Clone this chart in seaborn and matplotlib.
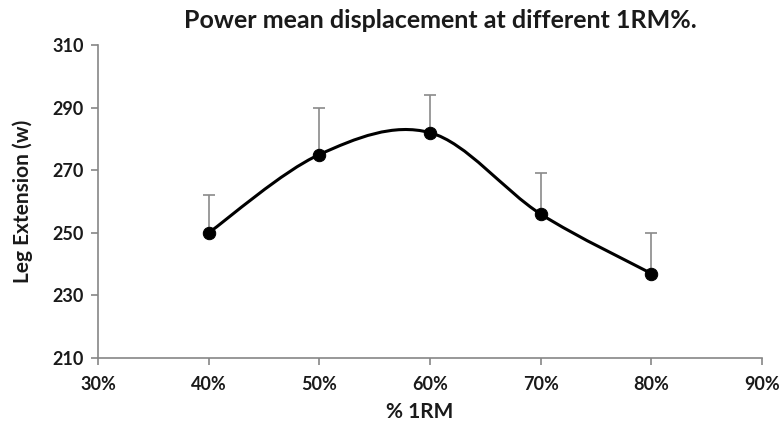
import numpy as np
import pandas as pd
import seaborn as sns
import matplotlib.pyplot as plt
from matplotlib.path import Path
from matplotlib.patches import PathPatch
from matplotlib.ticker import FuncFormatter

sns.set_theme(style="white")
plt.rcParams['font.family'] = ['Lato', 'DejaVu Sans']
plt.rcParams['font.weight'] = 'bold'

# datos
pct_1rm = [0.40, 0.50, 0.60, 0.70, 0.80]
power_mean = [250, 275, 282, 256, 237]
err_up = [12, 15, 12, 13, 13]

x_ticks = [0.30, 0.40, 0.50, 0.60, 0.70, 0.80, 0.90]
y_ticks = [210, 230, 250, 270, 290, 310]

df = pd.DataFrame({'pct': pct_1rm, 'power': power_mean, 'err': err_up})

fig = plt.figure(figsize=(7.8, 4.3), dpi=100)
ax = fig.add_axes([0.1256, 0.1674, 0.8513, 0.7279])

# linea suavizada tipo excel (bezier catmull-rom)
px = df['pct'].to_numpy()
py = df['power'].to_numpy()
verts = [(px[0], py[0])]
codes = [Path.MOVETO]
n = len(px)
for i in range(n - 1):
    p0 = max(i - 1, 0)
    p3 = min(i + 2, n - 1)
    c1 = (px[i] + (px[i + 1] - px[p0]) / 6, py[i] + (py[i + 1] - py[p0]) / 6)
    c2 = (px[i + 1] - (px[p3] - px[i]) / 6, py[i + 1] - (py[p3] - py[i]) / 6)
    verts += [c1, c2, (px[i + 1], py[i + 1])]
    codes += [Path.CURVE4] * 3
ax.add_patch(PathPatch(Path(verts, codes), facecolor='none', edgecolor='black',
                       lw=2.2, zorder=3))

# barras de error solo hacia arriba
ax.errorbar(df['pct'], df['power'], yerr=[np.zeros(n), df['err']], fmt='none',
            ecolor='#8a8a8a', elinewidth=1.2, capsize=4, capthick=1.2, zorder=2)

sns.scatterplot(data=df, x='pct', y='power', ax=ax, color='black', s=80,
                edgecolor='black', zorder=4, legend=False)

ax.set_xlim(0.30, 0.90)
ax.set_ylim(210, 310)
ax.set_xticks(x_ticks)
ax.set_yticks(y_ticks)
ax.xaxis.set_major_formatter(FuncFormatter(lambda v, p: f'{v * 100:.0f}%'))

for s in ['top', 'right']:
    ax.spines[s].set_visible(False)
for s in ['left', 'bottom']:
    ax.spines[s].set_color('#868686')
    ax.spines[s].set_linewidth(1.2)
ax.tick_params(axis='both', which='both', direction='out', length=5, width=1.2,
               color='#868686', labelsize=13, left=True, bottom=True)
ax.tick_params(axis='y', pad=5)
ax.tick_params(axis='x', pad=8)
for lab in ax.get_xticklabels() + ax.get_yticklabels():
    lab.set_fontweight('bold')
    lab.set_color('#1a1a1a')

ax.set_xlabel('% 1RM', fontsize=15, fontweight='bold', color='#1a1a1a')
ax.xaxis.set_label_coords(0.485, -0.14)
ax.set_ylabel('Leg Extension (w)', fontsize=15, fontweight='bold', color='#1a1a1a')
ax.yaxis.set_label_coords(-0.098, 0.5)
fig.text(0.564, 0.952, 'Power mean displacement at different 1RM%.', ha='center',
         va='center', fontsize=18, fontweight='bold', color='#1a1a1a')

fig.savefig('out.png', dpi=100)
